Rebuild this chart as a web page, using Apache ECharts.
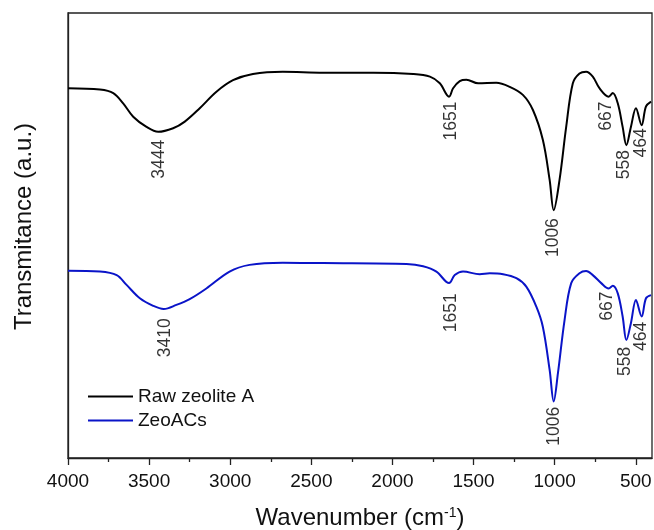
<!DOCTYPE html>
<html>
<head>
<meta charset="utf-8">
<script src="https://cdn.jsdelivr.net/npm/echarts@6/dist/echarts.min.js"></script>
<style>
html, body { margin: 0; padding: 0; background: #fff; }
#ftir { width: 654px; height: 530px; }
</style>
</head>
<body>
<div id="ftir"></div>
<script>
// wavenumber (cm-1) / transmittance (a.u.)
var rawWn = [4000, 3803, 3721, 3660, 3598, 3516, 3444, 3352, 3280, 3188, 3085, 2983, 2860, 2676, 2426, 2118, 1872, 1769, 1708, 1651, 1626, 1585, 1544, 1472, 1360, 1277, 1196, 1134, 1073, 1031, 1006, 970, 929, 888, 847, 806, 765, 724, 667, 642, 611, 581, 558, 530, 499, 464, 437, 406];
var rawT  = [83.1, 82.8, 82.0, 79.7, 76.7, 74.4, 73.3, 74.1, 75.6, 78.6, 82.3, 84.9, 86.3, 86.8, 86.6, 86.6, 86.3, 85.7, 84.2, 81.2, 83.1, 84.7, 85.0, 84.2, 84.3, 83.4, 81.6, 78.2, 71.5, 62.5, 55.7, 62.5, 74.4, 84.2, 86.4, 86.8, 85.7, 83.1, 81.2, 82.0, 79.7, 74.4, 70.3, 74.4, 78.6, 74.8, 79.0, 80.1];

var zeoWn = [4000, 3803, 3700, 3639, 3557, 3475, 3410, 3332, 3250, 3147, 3004, 2881, 2676, 2426, 1913, 1811, 1729, 1651, 1616, 1565, 1462, 1400, 1318, 1236, 1175, 1113, 1073, 1031, 1006, 980, 939, 898, 847, 806, 765, 713, 667, 642, 611, 581, 558, 530, 499, 464, 437, 406];
var zeoT  = [42.1, 41.9, 41.1, 38.9, 35.9, 34.2, 33.5, 34.4, 35.7, 38.1, 41.9, 43.4, 43.9, 43.8, 43.6, 43.1, 41.9, 39.3, 41.1, 41.9, 41.3, 41.5, 41.3, 40.4, 38.5, 34.0, 29.5, 19.8, 12.7, 19.0, 31.0, 39.3, 41.5, 42.0, 41.1, 39.3, 38.1, 38.7, 37.0, 31.8, 26.5, 30.3, 35.5, 31.8, 35.9, 36.6];

// peak labels: text, x and top of label
var rawPeakText = ['3444', '1651', '1006', '667', '558', '464'];
var rawPeakWn   = [3440, 1637, 1007, 683, 570, 464];
var rawPeakT    = [71.5, 80.1, 53.9, 80.1, 69.2, 74.1];

var zeoPeakText = ['3410', '1651', '1006', '667', '558', '464'];
var zeoPeakWn   = [3403, 1640, 1003, 679, 566, 464];
var zeoPeakT    = [31.4, 37.0, 11.5, 37.4, 25.0, 30.6];

var majorTicks = [4000, 3500, 3000, 2500, 2000, 1500, 1000, 500];
var minorTicks = [3750, 3250, 2750, 2250, 1750, 1250, 750];

function pairs(xs, ys) {
    return xs.map(function (x, i) { return [x, ys[i]]; });
}
function peaks(txt, xs, ys) {
    return txt.map(function (t, i) { return { name: t, value: [xs[i], ys[i]] }; });
}

var font = 'Liberation Sans, Arial, sans-serif';
var peakLabel = {
    show: true,
    position: 'inside',
    rotate: 90,
    align: 'right',
    verticalAlign: 'middle',
    formatter: '{b}',
    color: '#000',
    textBorderWidth: 0,
    fontSize: 17.5,
    fontFamily: font
};

var myChart = echarts.init(document.getElementById('ftir'));
var option = {
    animation: false,
    grid: {
        left: 68, top: 13, right: 2, bottom: 72,
        outerBoundsMode: 'none',
        show: true,
        borderColor: '#222',
        borderWidth: 1.3
    },
    legend: {
        data: ['Raw zeolite A', 'ZeoACs'],
        orient: 'vertical',
        left: 83,
        top: 382,
        icon: 'rect',
        itemWidth: 45,
        itemHeight: 2,
        itemGap: 5,
        textStyle: { fontSize: 19, fontFamily: font, color: '#111' }
    },
    xAxis: [
        {
            type: 'value',
            inverse: true,
            min: 400,
            max: 4000,
            name: 'Wavenumber (cm{sup|-1})',
            nameLocation: 'middle',
            nameGap: 48,
            nameTextStyle: {
                fontSize: 24, fontFamily: font, color: '#111',
                rich: { sup: { fontSize: 14, verticalAlign: 'top', padding: [0, 0, 11, 0], fontFamily: font, color: '#111' } }
            },
            splitLine: { show: false },
            axisLine: { lineStyle: { color: '#222', width: 1.3 } },
            axisTick: { customValues: majorTicks, length: 7, lineStyle: { color: '#222', width: 1.3 } },
            axisLabel: {
                customValues: majorTicks,
                formatter: function (v) { return String(v); },
                fontSize: 19, fontFamily: font, color: '#111', margin: 14
            }
        },
        {
            type: 'value',
            inverse: true,
            min: 400,
            max: 4000,
            position: 'bottom',
            splitLine: { show: false },
            axisLine: { show: false },
            axisTick: { customValues: minorTicks, length: 4, lineStyle: { color: '#222', width: 1.3 } },
            axisLabel: { show: false }
        }
    ],
    yAxis: {
        type: 'value',
        min: 0,
        max: 100,
        name: 'Transmitance (a.u.)',
        nameLocation: 'middle',
        nameRotate: 90,
        nameGap: 32,
        nameTextStyle: { fontSize: 24, fontFamily: font, color: '#111', padding: [0, 0, 0, 18] },
        splitLine: { show: false },
        axisLine: { lineStyle: { color: '#222', width: 1.3 } },
        axisTick: { show: false },
        axisLabel: { show: false }
    },
    series: [
        {
            name: 'Raw zeolite A',
            type: 'line',
            data: pairs(rawWn, rawT),
            smooth: 0.35,
            symbol: 'none',
            lineStyle: { color: '#000', width: 2 },
            itemStyle: { color: '#000' }
        },
        {
            name: 'ZeoACs',
            type: 'line',
            data: pairs(zeoWn, zeoT),
            smooth: 0.35,
            symbol: 'none',
            lineStyle: { color: '#0a14c8', width: 2 },
            itemStyle: { color: '#0a14c8' }
        },
        {
            name: 'raw peaks',
            type: 'scatter',
            symbolSize: 0,
            itemStyle: { color: '#000' },
            data: peaks(rawPeakText, rawPeakWn, rawPeakT),
            label: peakLabel,
            silent: true
        },
        {
            name: 'zeo peaks',
            type: 'scatter',
            symbolSize: 0,
            itemStyle: { color: '#000' },
            data: peaks(zeoPeakText, zeoPeakWn, zeoPeakT),
            label: peakLabel,
            silent: true
        }
    ]
};
myChart.setOption(option);
</script>
</body>
</html>
